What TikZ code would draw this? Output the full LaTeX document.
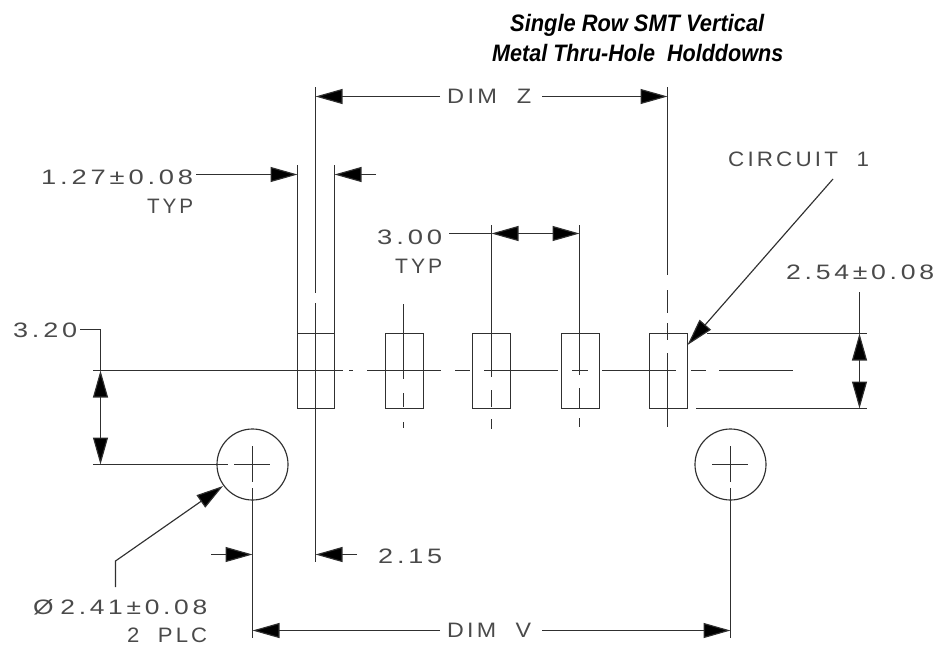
\documentclass[tikz,border=0pt]{standalone}
\usepackage{graphicx}
\usepackage{fontspec}
\usetikzlibrary{arrows.meta}
\newfontfamily\cadface[LetterSpace=14]{Liberation Sans}
\newfontfamily\titleface{Liberation Sans}
\definecolor{cadink}{HTML}{303030}
\definecolor{cadtext}{HTML}{4A4A4A}
% width, text : CAD lettering of fixed cap height
\newcommand{\cadlabel}[2]{\resizebox{#1pt}{15pt}{\fontsize{19.5pt}{24pt}\selectfont\cadface\rule{0pt}{14pt}\smash{#2}}}
\newcommand{\titlelabel}[2]{\resizebox{#1pt}{17pt}{\fontsize{20pt}{24pt}\selectfont\titleface\bfseries\itshape\rule{0pt}{14.3pt}\smash{#2}}}
\tikzset{
  cad/.style={line width=1.15pt,draw=cadink},
  dimtip/.style={cad,-{Triangle[length=27pt,width=15pt,fill=black]}},
  dimtwo/.style={cad,{Triangle[length=27pt,width=15pt,fill=black]}-{Triangle[length=27pt,width=15pt,fill=black]}},
  lbl/.style={inner sep=0pt,anchor=west,text=cadtext},
  ttl/.style={inner sep=0pt,anchor=west,text=black},
}
\begin{document}
\begin{tikzpicture}[x=1pt,y=-1pt]
\useasboundingbox (0,0) rectangle (939,646);
% title
\node[ttl] (t1) at (510,23) {\titlelabel{254}{Single Row SMT Vertical}};
\node[ttl] (t2) at (492,52.5) {\titlelabel{291}{Metal Thru-Hole\ \ Holddowns}};
% pads
\foreach \n/\a/\b in {p1/297.5/334.5,p2/385.5/423.5,p3/472.5/510.5,p4/561.5/599.5,p5/649.5/687.5}
  \draw[cad] (\a,333.5) rectangle (\b,408.5);
% holes
\draw[cad] (252.5,464.5) circle (35.5);
\draw[cad] (730.5,464.5) circle (35.5);
% main centre line
\draw[cad] (93,370.5) -- (343,370.5);
\draw[cad] (349,370.5) -- (353,370.5);
\draw[cad] (367,370.5) -- (441,370.5);
\draw[cad] (455,370.5) -- (470,370.5);
\draw[cad] (484,370.5) -- (558,370.5);
\draw[cad] (572,370.5) -- (588,370.5);
\draw[cad] (602,370.5) -- (676,370.5);
\draw[cad] (691,370.5) -- (706,370.5);
\draw[cad] (719,370.5) -- (793,370.5);
% pad centre / extension lines
\draw[cad] (315.5,87) -- (315.5,293);
\draw[cad] (315.5,303) -- (315.5,562);
\draw[cad] (297.5,165) -- (297.5,333.5);
\draw[cad] (334.5,165) -- (334.5,333.5);
\draw[cad] (403.5,304) -- (403.5,379);
\draw[cad] (403.5,393) -- (403.5,407);
\draw[cad] (403.5,422) -- (403.5,428);
\draw[cad] (491.5,225) -- (491.5,377);
\draw[cad] (491.5,390) -- (491.5,407);
\draw[cad] (491.5,419) -- (491.5,429);
\draw[cad] (579.5,225) -- (579.5,375);
\draw[cad] (579.5,388) -- (579.5,408);
\draw[cad] (579.5,418) -- (579.5,427);
\draw[cad] (667.5,87) -- (667.5,275);
\draw[cad] (667.5,290) -- (667.5,313);
\draw[cad] (667.5,323) -- (667.5,340);
\draw[cad] (667.5,353) -- (667.5,427);
% hole centre lines
\draw[cad] (252.5,446) -- (252.5,482);
\draw[cad] (252.5,488) -- (252.5,638);
\draw[cad] (730.5,446) -- (730.5,482);
\draw[cad] (730.5,488) -- (730.5,638);
\draw[cad] (93,464.5) -- (228,464.5);
\draw[cad] (234,464.5) -- (270,464.5);
\draw[cad] (712,464.5) -- (748,464.5);
% DIM Z
\node[lbl] (dimz) at (447,96) {\cadlabel{84}{DIM\ \ Z}};
\draw[dimtip] (440,96.5) -- (315.5,96.5);
\draw[dimtip] (542,96.5) -- (667.5,96.5);
% 1.27
\node[lbl] (a127) at (41,176.5) {\cadlabel{152}{1.27±0.08}};
\node[lbl] (b127) at (147,206) {\cadlabel{46}{TYP}};
\draw[dimtip] (196,174.5) -- (297.5,174.5);
\draw[dimtip] (376,174.5) -- (334.5,174.5);
% 3.00
\node[lbl] (a300) at (377,237) {\cadlabel{65}{3.00}};
\node[lbl] (b300) at (395,266) {\cadlabel{47}{TYP}};
\draw[cad] (449,233.5) -- (491.5,233.5);
\draw[dimtwo] (491.5,233.5) -- (579.5,233.5);
% CIRCUIT 1
\node[lbl] (circ) at (728,159) {\cadlabel{141}{CIRCUIT\ \ 1}};
\draw[dimtip] (833,179) -- (687.5,345);
% 2.54
\node[lbl] (a254) at (786,272) {\cadlabel{148}{2.54±0.08}};
\draw[cad] (707,333.5) -- (867,333.5);
\draw[cad] (696,408.5) -- (867,408.5);
\draw[cad] (859.5,292) -- (859.5,333.5);
\draw[dimtwo] (859.5,333.5) -- (859.5,408.5);
% 3.20
\node[lbl] (a320) at (13,330) {\cadlabel{64}{3.20}};
\draw[cad] (80,329.5) -- (100.5,329.5) -- (100.5,370.5);
\draw[dimtwo] (100.5,370.5) -- (100.5,464.5);
% 2.15
\node[lbl] (a215) at (378,556) {\cadlabel{64}{2.15}};
\draw[dimtip] (211,554.5) -- (252.5,554.5);
\draw[dimtip] (357,554.5) -- (315.5,554.5);
% diameter
\node[lbl] (a241) at (33,607) {\cadlabel{174}{Ø\kern5pt 2.41±0.08}};
\node[lbl] (b241) at (127,634.5) {\cadlabel{80}{2\ \ PLC}};
\draw[dimtip] (115.5,587) -- (115.5,561) -- (223,486);
% DIM V
\node[lbl] (dimv) at (447,630) {\cadlabel{84}{DIM\ \ V}};
\draw[dimtip] (440,630.5) -- (252.5,630.5);
\draw[dimtip] (542,630.5) -- (730.5,630.5);
\end{tikzpicture}
\end{document}
